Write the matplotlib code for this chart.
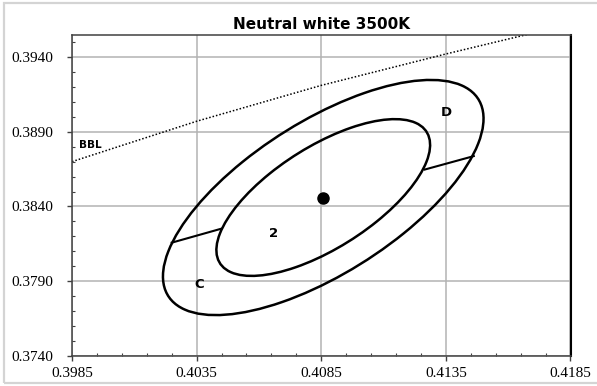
import numpy as np
import matplotlib
matplotlib.use('Agg')
import matplotlib.pyplot as plt
from matplotlib.patches import Ellipse, Rectangle

# black body locus (dotted)
bbl_x = [0.3985, 0.4035, 0.4085, 0.4135, 0.4185]
bbl_y = [0.3870, 0.3897, 0.3921, 0.3942, 0.3962]

# nominal chromaticity point
center_x = 0.40858
center_y = 0.38460

# 1-step MacAdam ellipse (semi axes, rotation in degrees)
a_1step = 0.00311
b_1step = 0.00134
theta = 53.4
steps = [2, 3]

# line splitting the ring between the 2 and 3 step ellipses into C / D
split_right_x = [0.41265, 0.41462]
split_right_y = [0.38647, 0.38737]
split_left_x = [0.40448, 0.40250]
split_left_y = [0.38251, 0.38158]

# text labels
label_text = ['D', '2', 'C']
label_x = [0.4135, 0.40657, 0.40362]
label_y = [0.3903, 0.38217, 0.37878]
bbl_label_x = 0.39922
bbl_label_y = 0.38808

x_ticks = [0.3985, 0.4035, 0.4085, 0.4135, 0.4185]
y_ticks = [0.3740, 0.3790, 0.3840, 0.3890, 0.3940]

fig = plt.figure(figsize=(5.97, 3.86), dpi=100)
ax = fig.add_axes([72/597, 30/386, (570.5-72)/597, (356-35)/386])

# light grey chart border
fig.patches.append(Rectangle((4/597, 3/386), 620/597, 380/386, transform=fig.transFigure,
                             fill=False, edgecolor='#d4d4d4', linewidth=1.6))

ax.plot(bbl_x, bbl_y, color='black', linestyle=(0, (1, 1.3)), linewidth=1.1)

for s in steps:
    e = Ellipse((center_x, center_y), width=2*a_1step*s, height=2*b_1step*s, angle=theta,
                fill=False, edgecolor='black', linewidth=1.8, zorder=3)
    ax.add_patch(e)

ax.plot(split_right_x, split_right_y, color='black', linewidth=1.5, zorder=3)
ax.plot(split_left_x, split_left_y, color='black', linewidth=1.5, zorder=3)
ax.plot([center_x], [center_y], 'o', color='black', markersize=8, zorder=4)

for t, x, y in zip(label_text, label_x, label_y):
    ax.text(x, y, t, fontsize=9.5, fontweight='bold', ha='center', va='center')
ax.text(bbl_label_x, bbl_label_y, 'BBL', fontsize=7.5, fontweight='bold', ha='center', va='center')

ax.set_xlim(0.3985, 0.4185)
ax.set_ylim(0.3740, 0.39547)
ax.set_xticks(x_ticks)
ax.set_yticks(y_ticks)
ax.set_xticks(np.arange(0.3985, 0.41855, 0.001), minor=True)
ax.set_yticks(np.arange(0.3740, 0.3955, 0.001), minor=True)
ax.set_xticklabels(['%.4f' % v for v in x_ticks], fontfamily='Liberation Serif', fontsize=11)
ax.set_yticklabels(['%.4f' % v for v in y_ticks], fontfamily='Liberation Serif', fontsize=11)
ax.tick_params(axis='both', which='major', direction='out', length=3.6, width=1, color='#404040')
ax.tick_params(axis='both', which='minor', direction='in', length=2.2, width=0.8, color='#404040')
ax.tick_params(axis='x', which='major', pad=4)
ax.tick_params(axis='y', which='major', pad=10)

ax.grid(True, which='major', color='#b3b3b3', linewidth=1.1)
ax.set_axisbelow(True)
for side in ['left', 'bottom', 'top']:
    ax.spines[side].set_color('#404040')
    ax.spines[side].set_linewidth(1.1)
ax.spines['right'].set_color('black')
ax.spines['right'].set_linewidth(1.5)

ax.set_title('Neutral white 3500K', fontsize=11, fontweight='bold', pad=4)

plt.savefig('out.png', dpi=100)
